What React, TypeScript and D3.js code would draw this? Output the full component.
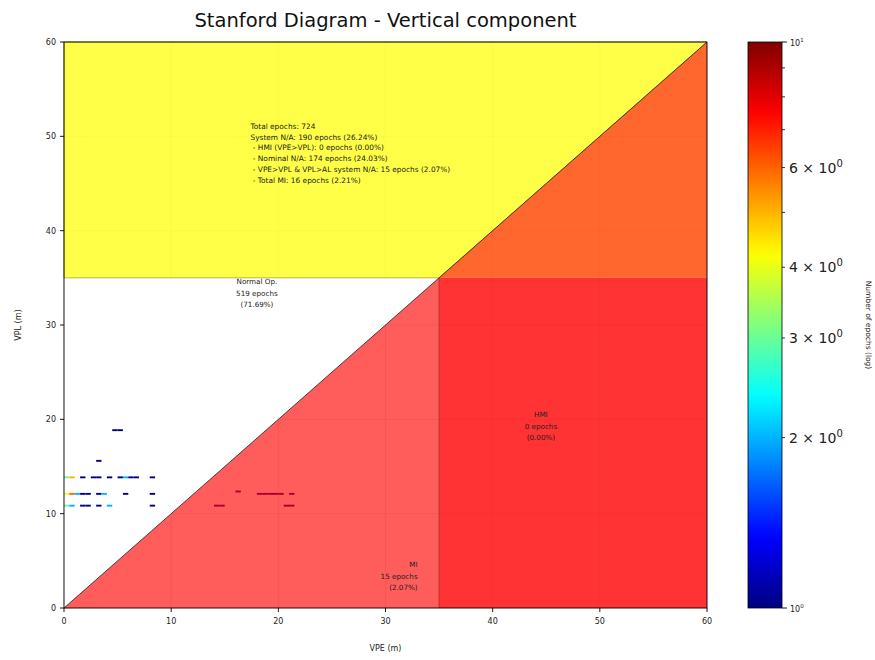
import React from "react";
import * as d3 from "d3";

const W = 875;
const H = 660;
const ALERT_LIMIT = 35;
const AXIS_MAX = 60;
const xTicks = [0, 10, 20, 30, 40, 50, 60];
const yTicks = [0, 10, 20, 30, 40, 50, 60];
const cbMajorLabels = [
  { v: 2, m: "2" },
  { v: 3, m: "3" },
  { v: 4, m: "4" },
  { v: 6, m: "6" },
];
const cbMinor = [2, 3, 4, 5, 6, 7, 8, 9];

// 2D histogram cells: VPE bin start, VPL bin start, count
const cellVPE = [
  0, 0.5, 1.5, 2.5, 3.0, 4.0, 5.0, 5.5, 6.0, 6.5, 8.0,
  0, 0.5, 1.0, 1.5, 2.0, 3.0, 3.5, 5.5, 8.0,
  0, 0.5, 1.5, 2.0, 3.0, 4.0, 8.0,
  3.0, 4.5, 5.0,
  16.0, 18.0, 18.5, 19.0, 19.5, 20.0, 21.0, 14.0, 14.5, 20.5, 21.0,
];
const cellVPL = [
  13.75, 13.75, 13.75, 13.75, 13.75, 13.75, 13.75, 13.75, 13.75, 13.75, 13.75,
  12.0, 12.0, 12.0, 12.0, 12.0, 12.0, 12.0, 12.0, 12.0,
  10.75, 10.75, 10.75, 10.75, 10.75, 10.75, 10.75,
  15.5, 18.75, 18.75,
  12.25, 12.0, 12.0, 12.0, 12.0, 12.0, 12.0, 10.75, 10.75, 10.75, 10.75,
];
const cellCount = [
  3, 5, 1, 1, 1, 1, 1, 2, 1, 1, 1,
  4, 6, 2, 1, 1, 1, 2, 1, 1,
  3, 2, 1, 1, 1, 2, 1,
  1, 1, 1,
  1, 1, 1, 1, 1, 1, 1, 1, 1, 1, 1,
];

const summaryLines = [
  "Total epochs: 724",
  "System N/A: 190 epochs (26.24%)",
  " - HMI (VPE>VPL): 0 epochs (0.00%)",
  " - Nominal N/A: 174 epochs (24.03%)",
  " - VPE>VPL & VPL>AL system N/A: 15 epochs (2.07%)",
  " - Total MI: 16 epochs (2.21%)",
];
const nominalLines = ["Normal Op.", "519 epochs", "(71.69%)"];
const hmiLines = ["HMI", "0 epochs", "(0.00%)"];
const miLines = ["MI", "15 epochs", "(2.07%)"];

function jet(t: number): string {
  const c = (v: number) => Math.max(0, Math.min(1, v));
  const r = c(1.5 - Math.abs(4 * t - 3));
  const g = c(1.5 - Math.abs(4 * t - 2));
  const b = c(1.5 - Math.abs(4 * t - 1));
  return d3.rgb(r * 255, g * 255, b * 255).formatHex();
}

export default function App() {
  const left = 64, right = 707, top = 42, bottom = 608;
  const x = d3.scaleLinear().domain([0, AXIS_MAX]).range([left, right]);
  const y = d3.scaleLinear().domain([0, AXIS_MAX]).range([bottom, top]);
  const cb = d3.scaleLog().domain([1, 10]).range([bottom, top]);
  const colorT = d3.scaleLog().domain([1, 10]).range([0, 1]).clamp(true);
  const cbX0 = 748, cbX1 = 782;
  const AL = ALERT_LIMIT, M = AXIS_MAX;
  const poly = (pts: number[][]) => pts.map((p) => `${x(p[0])},${y(p[1])}`).join(" ");
  const stops = d3.range(0, 1.0001, 0.02);
  const font = "DejaVu Sans, sans-serif";

  return (
    <div style={{ position: "absolute", left: 0, top: 0 }}>
      <svg width={W} height={H} style={{ display: "block", background: "#fff" }} fontFamily={font}>
        <defs>
          <linearGradient id="jetg" x1="0" y1="1" x2="0" y2="0">
            {stops.map((s, i) => (
              <stop key={i} offset={s} stopColor={jet(s)} />
            ))}
          </linearGradient>
        </defs>
        <text x={(left + right) / 2} y={27} textAnchor="middle" fontSize={19.5} fill="#111">
          Stanford Diagram - Vertical component
        </text>
        {/* faint grid */}
        {xTicks.map((t) => (
          <line key={"gx" + t} x1={x(t)} x2={x(t)} y1={top} y2={bottom} stroke="#b0b0b0" strokeWidth={0.8} opacity={0.3} />
        ))}
        {yTicks.map((t) => (
          <line key={"gy" + t} y1={y(t)} y2={y(t)} x1={left} x2={right} stroke="#b0b0b0" strokeWidth={0.8} opacity={0.3} />
        ))}
        {/* regions (nominal area covered in white) */}
        <polygon points={poly([[0, 0], [0, AL], [AL, AL]])} fill="#ffffff" fillOpacity={0.92} />
        {/* histogram cells */}
        {cellVPE.map((v, i) => (
          <rect
            key={"c" + i}
            x={x(v)}
            y={y(cellVPL[i] + 0.2)}
            width={x(0.5) - x(0)}
            height={y(0) - y(0.2)}
            fill={jet(colorT(cellCount[i]))}
          />
        ))}
        <polygon points={poly([[0, AL], [0, M], [M, M], [AL, AL]])} fill="#ffff00" fillOpacity={0.72} stroke="#8a8a00" strokeWidth={0.6} />
        <polygon points={poly([[AL, AL], [M, M], [M, AL]])} fill="#ff4500" fillOpacity={0.82} />
        <polygon points={poly([[AL, 0], [AL, AL], [M, AL], [M, 0]])} fill="#ff0000" fillOpacity={0.8} />
        <polygon points={poly([[0, 0], [AL, AL], [AL, 0]])} fill="#ff0000" fillOpacity={0.64} />
        <line x1={x(AL)} x2={x(AL)} y1={y(0)} y2={y(AL)} stroke="#8b1a1a" strokeWidth={0.6} />
        <line x1={x(0)} x2={x(M)} y1={y(0)} y2={y(M)} stroke="#222" strokeWidth={0.8} />
        {/* region labels */}
        <text x={x(17.4)} y={y(50.8)} fontSize={7.4} fill="#222">
          {summaryLines.map((s, i) => (
            <tspan key={i} x={x(17.4)} dy={i === 0 ? 0 : 10.8} style={{ whiteSpace: "pre" }}>
              {s}
            </tspan>
          ))}
        </text>
        <text x={x(18)} y={y(34.3)} fontSize={7.2} fill="#222" textAnchor="middle">
          {nominalLines.map((s, i) => (
            <tspan key={i} x={x(18)} dy={i === 0 ? 0 : 11.5}>{s}</tspan>
          ))}
        </text>
        <text x={x(44.5)} y={y(20.2)} fontSize={7.2} fill="#222" textAnchor="middle">
          {hmiLines.map((s, i) => (
            <tspan key={i} x={x(44.5)} dy={i === 0 ? 0 : 11.5}>{s}</tspan>
          ))}
        </text>
        <text x={x(33)} y={y(4.3)} fontSize={7.2} fill="#222" textAnchor="end">
          {miLines.map((s, i) => (
            <tspan key={i} x={x(33)} dy={i === 0 ? 0 : 11.5}>{s}</tspan>
          ))}
        </text>
        {/* frame */}
        <rect x={left} y={top} width={right - left} height={bottom - top} fill="none" stroke="#000" strokeWidth={0.9} />
        {/* axes ticks */}
        {xTicks.map((t) => (
          <g key={"xt" + t}>
            <line x1={x(t)} x2={x(t)} y1={bottom} y2={bottom + 4} stroke="#000" strokeWidth={0.9} />
            <text x={x(t)} y={bottom + 16} fontSize={8} textAnchor="middle" fill="#222">{t}</text>
          </g>
        ))}
        {yTicks.map((t) => (
          <g key={"yt" + t}>
            <line x1={left - 4} x2={left} y1={y(t)} y2={y(t)} stroke="#000" strokeWidth={0.9} />
            <text x={left - 8} y={y(t) + 3} fontSize={8} textAnchor="end" fill="#222">{t}</text>
          </g>
        ))}
        <text x={(left + right) / 2} y={651} fontSize={8} textAnchor="middle" fill="#222">VPE (m)</text>
        <text transform={`translate(21,${(top + bottom) / 2}) rotate(-90)`} fontSize={8} textAnchor="middle" fill="#222">VPL (m)</text>
        {/* colorbar */}
        <rect x={cbX0} y={top} width={cbX1 - cbX0} height={bottom - top} fill="url(#jetg)" stroke="#000" strokeWidth={0.8} />
        {cbMinor.map((v) => (
          <line key={"cm" + v} x1={cbX1} x2={cbX1 + 3} y1={cb(v)} y2={cb(v)} stroke="#000" strokeWidth={0.8} />
        ))}
        {[1, 10].map((v) => (
          <line key={"cM" + v} x1={cbX1} x2={cbX1 + 5} y1={cb(v)} y2={cb(v)} stroke="#000" strokeWidth={0.9} />
        ))}
        <text x={cbX1 + 8} y={cb(10) + 4} fontSize={8} fill="#222">
          10<tspan dy={-4} fontSize={5.5}>1</tspan>
        </text>
        <text x={cbX1 + 8} y={cb(1) + 4} fontSize={8} fill="#222">
          10<tspan dy={-4} fontSize={5.5}>0</tspan>
        </text>
        {cbMajorLabels.map((d) => (
          <text key={"cl" + d.v} x={cbX1 + 7} y={cb(d.v) + 5} fontSize={14} fill="#222">
            {d.m} × 10<tspan dy={-6} fontSize={10}>0</tspan>
          </text>
        ))}
        <text transform={`translate(866,${(top + bottom) / 2}) rotate(90)`} fontSize={7.5} textAnchor="middle" fill="#222">
          Number of epochs (log)
        </text>
      </svg>
    </div>
  );
}
